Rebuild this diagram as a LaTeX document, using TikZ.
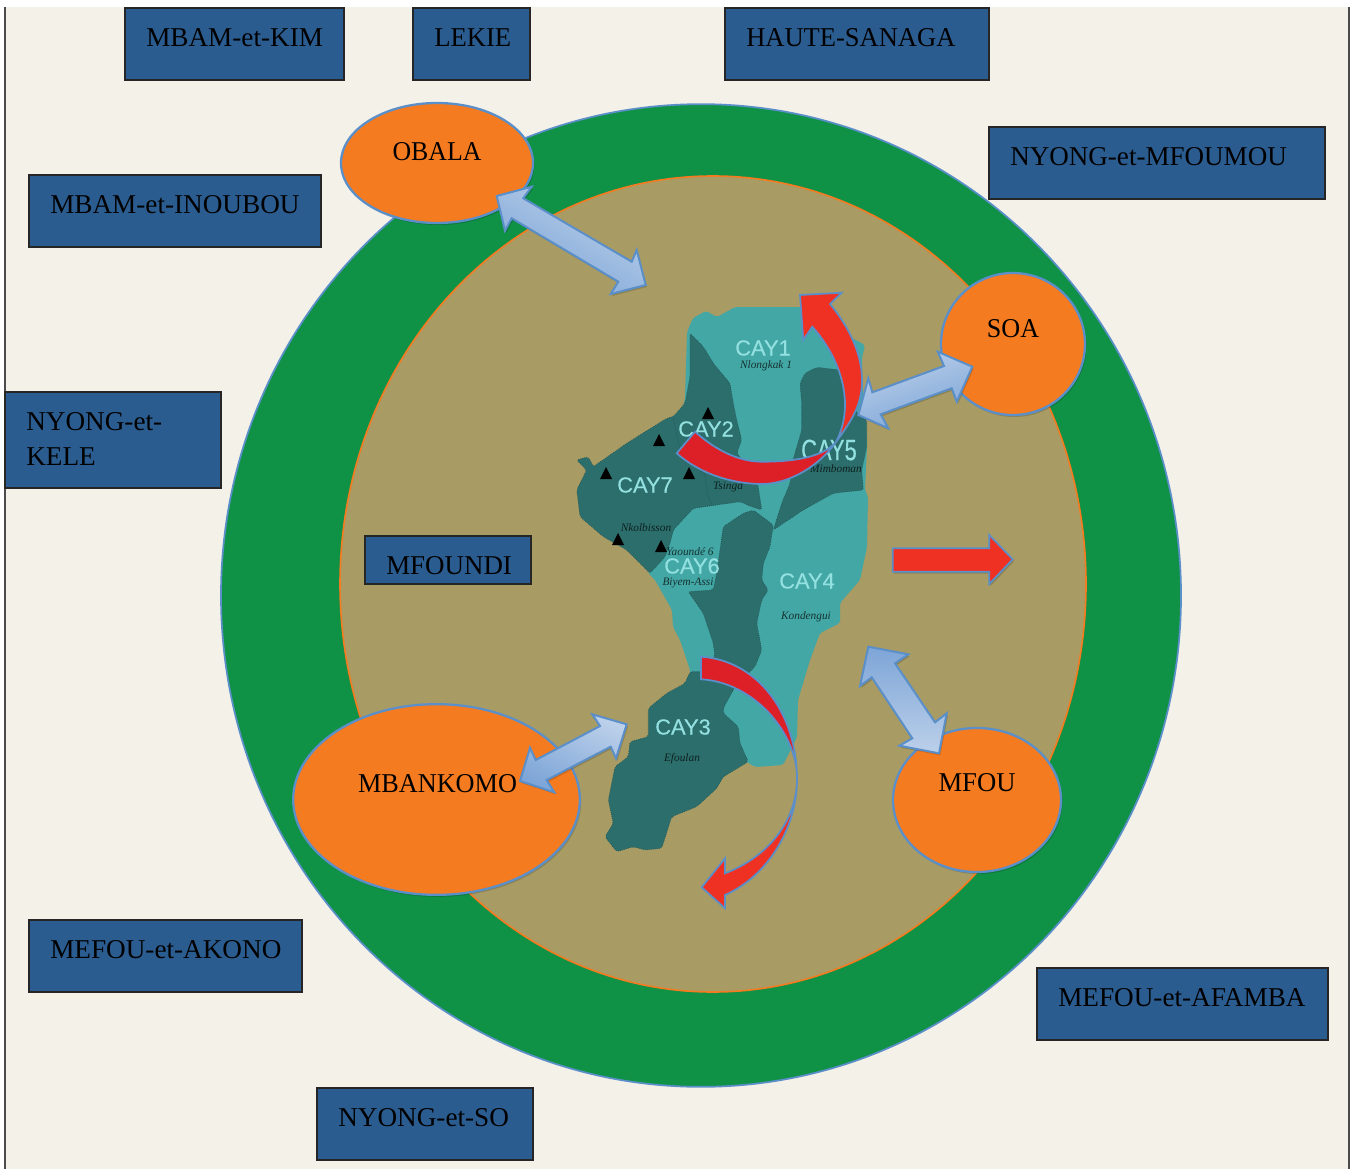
\documentclass[tikz,border=0pt]{standalone}
\usepackage{fontspec}
\setmainfont{Liberation Serif}
\newfontfamily\mapfont[FakeBold=0.4]{Liberation Sans}
\usetikzlibrary{shapes.geometric,shadows}
\definecolor{pagebg}{HTML}{F4F1E8}
\definecolor{boxblue}{HTML}{2B5C90}
\definecolor{ringgreen}{HTML}{0F9146}
\definecolor{landtan}{HTML}{A89B64}
\definecolor{orangeA}{HTML}{F57B20}
\definecolor{edgeblue}{HTML}{5B8FC9}
\definecolor{mapdark}{HTML}{2C6E6C}
\definecolor{maplight}{HTML}{43A7A5}
\definecolor{mapline}{HTML}{1F5453}
\definecolor{maptext}{HTML}{93E0E0}
\definecolor{redA}{HTML}{EF3124}
\definecolor{redB}{HTML}{DD2027}
\definecolor{dblLight}{HTML}{BCD0EA}
\definecolor{dblDark}{HTML}{7DA5D7}
\tikzset{
  softshadow/.style={drop shadow={shadow xshift=1pt,shadow yshift=-1.5pt,opacity=.16,fill=black}},
  bx/.style={draw=black!85,line width=1pt,fill=boxblue,inner sep=0pt},
  lbl/.style={font=\fontsize{20.4}{26.25}\selectfont,text=black,inner sep=0pt},
  ell/.style={ellipse,draw=edgeblue,line width=1.7pt,fill=orangeA,inner sep=0pt,softshadow},
  region/.style={fill=mapdark,draw=mapline,line width=.5pt,densely dotted,rounded corners=1.5pt},
  cay/.style={font=\mapfont\fontsize{16.4}{18}\selectfont,text=maptext,inner sep=0pt},
  town/.style={font=\itshape\fontsize{8.5}{9}\selectfont,text=black,opacity=.7,inner sep=0pt},
  dbl/.style={draw=edgeblue,line width=1.5pt,line join=miter,top color=dblLight,bottom color=dblDark,softshadow},
  redstroke/.style={draw=edgeblue,line width=1.3pt,line join=miter},
  peak/.style={fill=black}
}
\newcommand{\blk}[7][1]{%
  \node (#2) [bx,minimum width={(#5-#3)*0.75pt},minimum height={(#6-#4)*0.75pt}] at ({(#3+#5)/2},{(#4+#6)/2}) {};
  \node (#2t) [lbl,anchor=base west,xscale=#1] at (#3+21,#4+38.7) {#7};
}
\newcommand{\peakat}[2]{\fill[peak] (#1-6,#2+6) -- (#1,#2-6) -- (#1+6,#2+6) -- cycle;}
\begin{document}
\begin{tikzpicture}[x=0.75pt,y=-0.75pt]
\useasboundingbox (0,0) rectangle (1358,1169);
% page
\fill[pagebg] (5,7) rectangle (1349,1169);
\draw[black!70,line width=1.1pt] (5,7) -- (5,1169);
\draw[black!70,line width=1.1pt] (1349,7) -- (1349,1169);
% rings
\node (outer) [ellipse,draw=edgeblue,line width=1.3pt,fill=ringgreen,inner sep=0pt,minimum width=720pt,minimum height=737pt] at (701,595.5) {};
\node (inner) [ellipse,draw=orangeA,line width=1.2pt,fill=landtan,inner sep=0pt,minimum width=559.5pt,minimum height=612pt] at (713,584) {};
% boxes
\blk{kim}{125}{8}{344}{80}{MBAM-et-KIM}
\blk[.98]{lekie}{413}{8}{530}{80}{LEKIE}
\blk[.975]{sanaga}{725}{8}{989}{80}{HAUTE-SANAGA}
\blk[.995]{mfoumou}{989}{127}{1325}{199}{NYONG-et-MFOUMOU}
\blk{inoubou}{29}{175}{321}{247}{MBAM-et-INOUBOU}
\blk[.99]{mfoundi}{365}{536}{531}{584}{MFOUNDI}
\blk{akono}{29}{920}{302}{992}{MEFOU-et-AKONO}
\blk{afamba}{1037}{968}{1328}{1040}{MEFOU-et-AFAMBA}
\blk{so}{317}{1088}{533}{1160}{NYONG-et-SO}
\node (kele) [bx,minimum width=162pt,minimum height=72pt] at (113,440) {};
\node (kelet) [lbl,anchor=north west,align=left] at (26,412.3) {NYONG-et-\\KELE};
% map: light silhouette
\fill[maplight,rounded corners=1.5pt] (687,332) -- (693,318) -- (706,311) -- (717,317) -- (735,307) -- (803,307) -- (837,330) -- (865,345) -- (862,358) -- (862,380) -- (866,420) -- (867,447) -- (865,490) -- (868,497) -- (867,547) -- (860,580) -- (840,603) -- (840,623) -- (820,633) -- (810,660) -- (798,700) -- (797,737) -- (783,765) -- (755,767) -- (747,762) -- (700,730) -- (690,670) -- (680,640) -- (673,627) -- (672,610) -- (655,580) -- (648,573) -- (660,520) -- (685,398) -- cycle;
% map: dark regions
\path[region] (690,333.3) -- (703.3,346.7) -- (713.3,363.3) -- (730,383.3) -- (733.3,403.3) -- (736.7,420) -- (741.7,440) -- (736.7,453.3) -- (756.7,476.7) -- (761.7,510) -- (751.7,506.7) -- (740,501.7) -- (693.3,508.3) -- (673.3,530) -- (670,543.3) -- (665,556.7) -- (650,573.3) -- (626.7,550) -- (603.3,536.7) -- (580,516.7) -- (576.7,490) -- (586.7,470) -- (576.7,460) -- (588.3,456.7) -- (593.3,466.7) -- (626.7,443.3) -- (666.7,418.3) -- (673.3,416.7) -- (685,403.3) -- (690,376.7) -- cycle;
\path[region] (723.3,526.7) -- (743.3,513.3) -- (753.3,510) -- (773.3,525) -- (770,546.7) -- (763.3,563.3) -- (761.7,580) -- (768.3,590) -- (761.7,600) -- (756.7,623.3) -- (761.7,650) -- (755,666.7) -- (735,686.7) -- (723.3,708.3) -- (723.3,713.3) -- (738.3,726.7) -- (740,743.3) -- (748.3,761.7) -- (723.3,776.7) -- (716.7,788.3) -- (696.7,806.7) -- (671.7,816.7) -- (661.7,848.3) -- (645,850) -- (633.3,846.7) -- (616.7,851.7) -- (605,836.7) -- (613.3,823.3) -- (608.3,800) -- (615,766.7) -- (628.3,756.7) -- (630,741.7) -- (648.3,736.7) -- (648.3,708.3) -- (666.7,693.3) -- (685,683.3) -- (690,671.7) -- (701.7,671.7) -- (715,656.7) -- (713.3,643.3) -- (703.3,613.3) -- (688.3,591.7) -- (713.3,590) -- (716.7,573.3) -- cycle;
\path[region] (800,383.3) -- (805,373.3) -- (816.7,367.3) -- (840,370) -- (846.7,380) -- (856.7,413.3) -- (866.7,420) -- (866.7,446.7) -- (861.7,470) -- (863.3,490) -- (833.3,493.3) -- (803.3,510) -- (773.3,530) -- (781.7,503.3) -- (790,483.3) -- (793,460) -- (801.7,430) -- (801.7,403) -- cycle;
% inner map borders
\draw[mapline,line width=.5pt,densely dotted] (673,417) -- (680,450) -- (705,475) -- (708,497) -- (712,505);
% peaks
\peakat{708}{413}\peakat{659}{440}\peakat{606}{473}\peakat{689}{473}\peakat{618}{539}\peakat{661}{546}
% town names
\node (n1) [town] at (766,366) {Nlongkak 1};
\node (n2) [town] at (728,487) {Tsinga};
\node (n3) [town] at (646,528) {Nkolbisson};
\node (n4) [town] at (690,552) {Yaoundé 6};
\node (n5) [town] at (688,583) {Biyem-Assi};
\node (n6) [town] at (806,617) {Kondengui};
\node (n7) [town] at (682,759) {Efoulan};
\node (n8) [town] at (836,469) {Mimboman};
% CAY labels
\node (cay1) [cay] at (763,348) {CAY1};
\node (cay2) [cay] at (706,429) {CAY2};
\node (cay7) [cay] at (645,485) {CAY7};
\node (cay5) [cay,yscale=1.35] at (829,450) {CAY5};
\node (cay6) [cay] at (692,566) {CAY6};
\node (cay4) [cay] at (807,581) {CAY4};
\node (cay3) [cay] at (683,727) {CAY3};
% orange towns
\node (obala) [ell,minimum width=144pt,minimum height=90pt] at (437,163) {};
\node (soa) [ell,minimum width=108pt,minimum height=106.5pt] at (1013,344) {};
\node (mfou) [ell,minimum width=126pt,minimum height=108pt] at (977,800) {};
\node (mbankomo) [ell,minimum width=215pt,minimum height=143pt] at (436.5,799.5) {};
\node (obalat) [lbl,anchor=base,xscale=.95] at (437,160.5) {OBALA};
\node (soat) [lbl,anchor=base,xscale=.96] at (1013,337) {SOA};
\node (mfout) [lbl,anchor=base,xscale=.98] at (977,791.5) {MFOU};
\node (mbankomot) [lbl,anchor=base,xscale=.965] at (437.5,792.5) {MBANKOMO};
% blue double arrows
\path[dbl,shading angle=-30] (496.7,196) -- (531.7,186.7) -- (523.3,198.3) -- (631.7,261.7) -- (636.7,250) -- (645.7,285) -- (610.7,294) -- (618.3,281.7) -- (511.7,218.3) -- (505,230.7) -- cycle;
\path[dbl,shading angle=20] (972.3,366.7) -- (937.7,351.7) -- (944,366) -- (872.3,392.3) -- (868.3,378.3) -- (858.3,415) -- (888.3,428.3) -- (880.7,414.3) -- (951.7,388.3) -- (956.7,401.7) -- cycle;
\path[dbl,shading angle=90,top color=dblDark,bottom color=dblLight] (868.3,646.7) -- (908.3,654.3) -- (895,663.3) -- (935,722.3) -- (946.7,713.3) -- (939,753.3) -- (899.3,745.7) -- (912.3,738.3) -- (871.7,677.3) -- (860,686) -- cycle;
\path[dbl,shading angle=-25] (626.7,724.3) -- (592.3,714.3) -- (600,726) -- (535.7,760) -- (530,747.7) -- (520,781) -- (554.3,792.3) -- (546.7,780) -- (610.7,746.7) -- (616,758.3) -- cycle;
% straight red arrow
\path[fill=redA,redstroke,softshadow] (892.7,548.3) -- (989.3,548.3) -- (989.3,535) -- (1012.7,559.3) -- (989.3,584) -- (989.3,571.7) -- (892.7,571.7) -- cycle;
% curved red arrow, top
\def\arrowone{(676.7,453.3) .. controls (705,478) and (740,484) .. (762,484) .. controls (790,484) and (820,465) .. (836,442) .. controls (852,420) and (862,405) .. (862,380) .. controls (862,350) and (845,322) .. (830,304) -- (841.7,292.7) -- (800,295) -- (803.3,340) -- (812.3,326.7) .. controls (833,350) and (845,378) .. (845,405) .. controls (845,420) and (841,432) .. (836,442) .. controls (825,455) and (800,462) .. (760,461.7) .. controls (735,461) and (712,447) .. (695,431.7) -- cycle}
\fill[redA] \arrowone;
\begin{scope}
  \clip (660,425) -- (825,425) -- (836,442) -- (830,500) -- (660,500) -- cycle;
  \fill[redB] \arrowone;
\end{scope}
\path[redstroke] \arrowone;
% curved red arrow, bottom
\def\arrowtwo{(701,656.7) .. controls (755,660) and (797,710) .. (797,780) .. controls (797,825) and (770,875) .. (725,895) -- (725,908.3) -- (701.7,887.3) -- (725,858.3) -- (725,873.3) .. controls (765,858) and (795,825) .. (797,782) -- (797,775) .. controls (795,730) and (752,682) .. (701,679.3) -- cycle}
\fill[redA] \arrowtwo;
\begin{scope}
  \clip (680,640) rectangle (810,778);
  \fill[redB] \arrowtwo;
\end{scope}
\path[redstroke] \arrowtwo;
\end{tikzpicture}
\end{document}
